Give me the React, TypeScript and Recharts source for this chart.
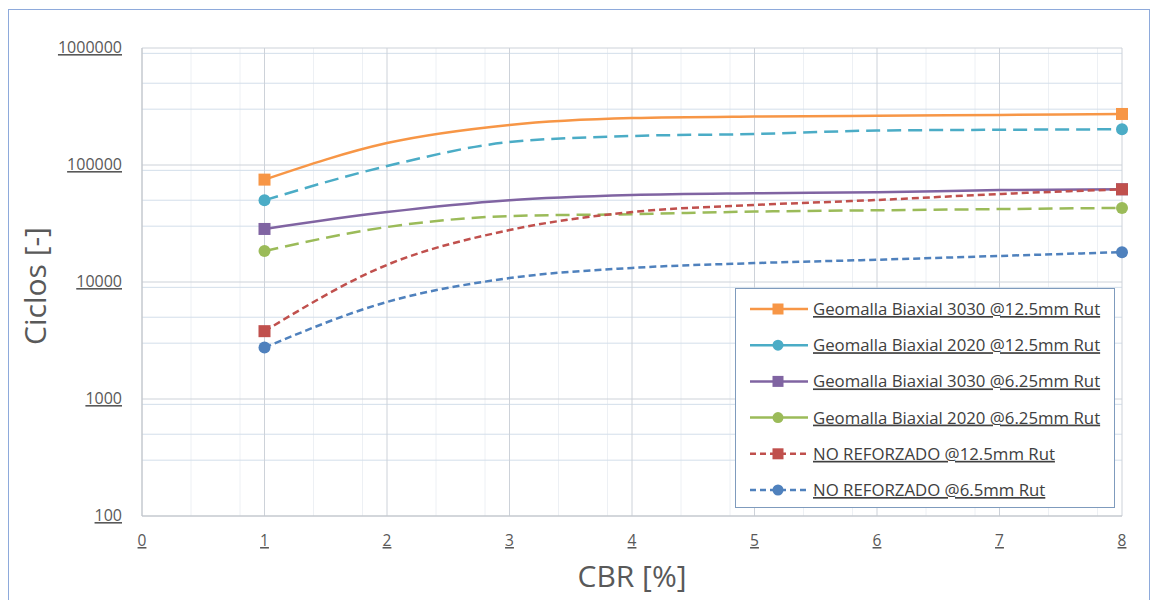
import React from 'react'
import {
  CartesianGrid,
  Legend,
  Line,
  LineChart,
  XAxis,
  YAxis,
} from 'recharts'

const cbr = [1, 2, 3, 4, 5, 6, 7, 8]
const geo3030_125 = [75000, 154000, 220000, 252000, 260000, 263000, 268000, 273000]
const geo2020_125 = [50000, 98000, 157000, 177000, 184000, 197000, 200000, 202000]
const geo3030_625 = [28400, 39600, 50000, 55400, 57400, 58500, 61000, 62000]
const geo2020_625 = [18400, 29500, 36600, 38000, 40000, 41000, 42000, 43000]
const noRef_125 = [3800, 14000, 27800, 39600, 45500, 50200, 56500, 62000]
const noRef_65 = [2750, 6750, 10800, 13200, 14500, 15500, 16700, 18000]

const xTicks = [0, 1, 2, 3, 4, 5, 6, 7, 8]
const yTicks = [100, 1000, 10000, 100000, 1000000]

const FONT = '"Open Sans", "Noto Sans", sans-serif'
const TEXT = '#595959'

type Series = {
  key: string
  name: string
  values: number[]
  color: string
  dash?: string
  legendDash?: string
  marker: 'square' | 'circle'
}

const series: Series[] = [
  { key: 'g3030a', name: 'Geomalla Biaxial 3030 @12.5mm Rut', values: geo3030_125, color: '#F79646', marker: 'square' },
  { key: 'g2020a', name: 'Geomalla Biaxial 2020 @12.5mm Rut', values: geo2020_125, color: '#4BACC6', dash: '14 7', marker: 'circle' },
  { key: 'g3030b', name: 'Geomalla Biaxial 3030 @6.25mm Rut', values: geo3030_625, color: '#8064A2', marker: 'square' },
  { key: 'g2020b', name: 'Geomalla Biaxial 2020 @6.25mm Rut', values: geo2020_625, color: '#9BBB59', dash: '14 7', marker: 'circle' },
  { key: 'nr125', name: 'NO REFORZADO @12.5mm Rut', values: noRef_125, color: '#C0504D', dash: '7 4', legendDash: '6 4', marker: 'square' },
  { key: 'nr65', name: 'NO REFORZADO @6.5mm Rut', values: noRef_65, color: '#4F81BD', dash: '7 4', legendDash: '6 4', marker: 'circle' },
]

const data = cbr.map((x, i) => {
  const row: Record<string, number> = { x }
  series.forEach((s) => {
    row[s.key] = s.values[i]
  })
  return row
})

const minorY: number[] = []
;[100, 1000, 10000, 100000].forEach((d) => {
  for (let m = 2; m <= 9; m++) minorY.push(d * m)
})
const minorX: number[] = []
for (let i = 0; i < 40; i++) {
  if (i % 5 !== 0) minorX.push(i / 5)
}

function Marker({ cx, cy, color, marker, size = 12 }: { cx: number; cy: number; color: string; marker: string; size?: number }) {
  if (marker === 'square') {
    return <rect x={cx - size / 2} y={cy - size / 2} width={size} height={size} fill={color} />
  }
  return <circle cx={cx} cy={cy} r={size / 2} fill={color} />
}

function makeDot(s: Series) {
  return (props: any) => {
    const { cx, cy, index } = props
    if (index !== 0 && index !== cbr.length - 1) return <g key={`${s.key}-${index}`} />
    return (
      <g key={`${s.key}-${index}`}>
        <Marker cx={cx} cy={cy} color={s.color} marker={s.marker} />
      </g>
    )
  }
}

function XTick({ x, y, payload }: any) {
  return (
    <text x={x} y={y + 22} textAnchor="middle" fontFamily={FONT} fontSize={15.5} fill={TEXT} textDecoration="underline">
      {payload.value}
    </text>
  )
}

function YTick({ x, y, payload }: any) {
  return (
    <text x={x - 12} y={y + 5} textAnchor="end" fontFamily={FONT} fontSize={16} fill={TEXT} textDecoration="underline">
      {payload.value}
    </text>
  )
}

function YLabel({ viewBox }: any) {
  const cx = 34
  const cy = viewBox.y + viewBox.height / 2 + 4
  return (
    <text
      x={cx}
      y={cy}
      transform={`rotate(-90 ${cx} ${cy})`}
      textAnchor="middle"
      dominantBaseline="central"
      fontFamily={FONT}
      fontSize={30}
      fill={TEXT}
    >
      Ciclos [-]
    </text>
  )
}

function LegendBox() {
  return (
    <div
      style={{
        width: 380,
        height: 220,
        border: '1px solid #7f9bbd',
        background: '#fff',
        boxSizing: 'border-box',
      }}
    >
      <svg width={378} height={218}>
        {series.map((s, i) => {
          const y = 20 + i * 36.2
          return (
            <g key={s.key}>
              <line x1={14} x2={72} y1={y} y2={y} stroke={s.color} strokeWidth={2.5} strokeDasharray={s.legendDash} />
              <Marker cx={42} cy={y} color={s.color} marker={s.marker} size={11} />
              <text x={77} y={y + 6} fontFamily={FONT} fontSize={16.8} fill="#404040" textDecoration="underline">
                {s.name}
              </text>
            </g>
          )
        })}
      </svg>
    </div>
  )
}

export default function App() {
  return (
    <div style={{ position: 'fixed', left: 0, top: 0, width: 1156, height: 600, overflow: 'hidden', background: '#fff' }}>
      <div
        style={{
          position: 'absolute',
          left: 8,
          top: 9,
          width: 1142,
          height: 640,
          border: '1px solid #8eaadb',
          boxSizing: 'border-box',
        }}
      />
      <div style={{ position: 'absolute', left: 0, top: 0 }}>
        <LineChart width={1156} height={600} data={data} margin={{ top: 48, right: 34, left: 52, bottom: 44 }}>
          <CartesianGrid
            stroke="#edf0f4"
            horizontal={false}
            verticalValues={minorX}
          />
          <CartesianGrid
            stroke="#d3deea"
            vertical={false}
            horizontalValues={minorY}
          />
          <CartesianGrid
            stroke="#cdd2d9"
            verticalValues={xTicks}
            horizontalValues={yTicks}
          />
          <XAxis
            dataKey="x"
            type="number"
            domain={[0, 8]}
            ticks={xTicks}
            height={40}
            tickLine={false}
            axisLine={{ stroke: '#c0c4ca' }}
            tick={<XTick />}
            label={{ value: 'CBR [%]', position: 'bottom', offset: 10, fontFamily: FONT, fontSize: 30, fill: TEXT }}
          />
          <YAxis
            scale="log"
            domain={[100, 1000000]}
            ticks={yTicks}
            allowDataOverflow
            width={90}
            tickLine={false}
            axisLine={{ stroke: '#c0c4ca' }}
            tick={<YTick />}
            label={<YLabel />}
          />
          <Legend
            layout="vertical"
            align="center"
            verticalAlign="middle"
            wrapperStyle={{ left: 735, top: 288, width: 380, height: 220 }}
            content={() => <LegendBox />}
          />
          {series.map((s) => (
            <Line
              key={s.key}
              dataKey={s.key}
              name={s.name}
              type="monotone"
              stroke={s.color}
              strokeWidth={2.5}
              strokeDasharray={s.dash}
              dot={makeDot(s)}
              activeDot={false}
              isAnimationActive={false}
            />
          ))}
        </LineChart>
      </div>
    </div>
  )
}
